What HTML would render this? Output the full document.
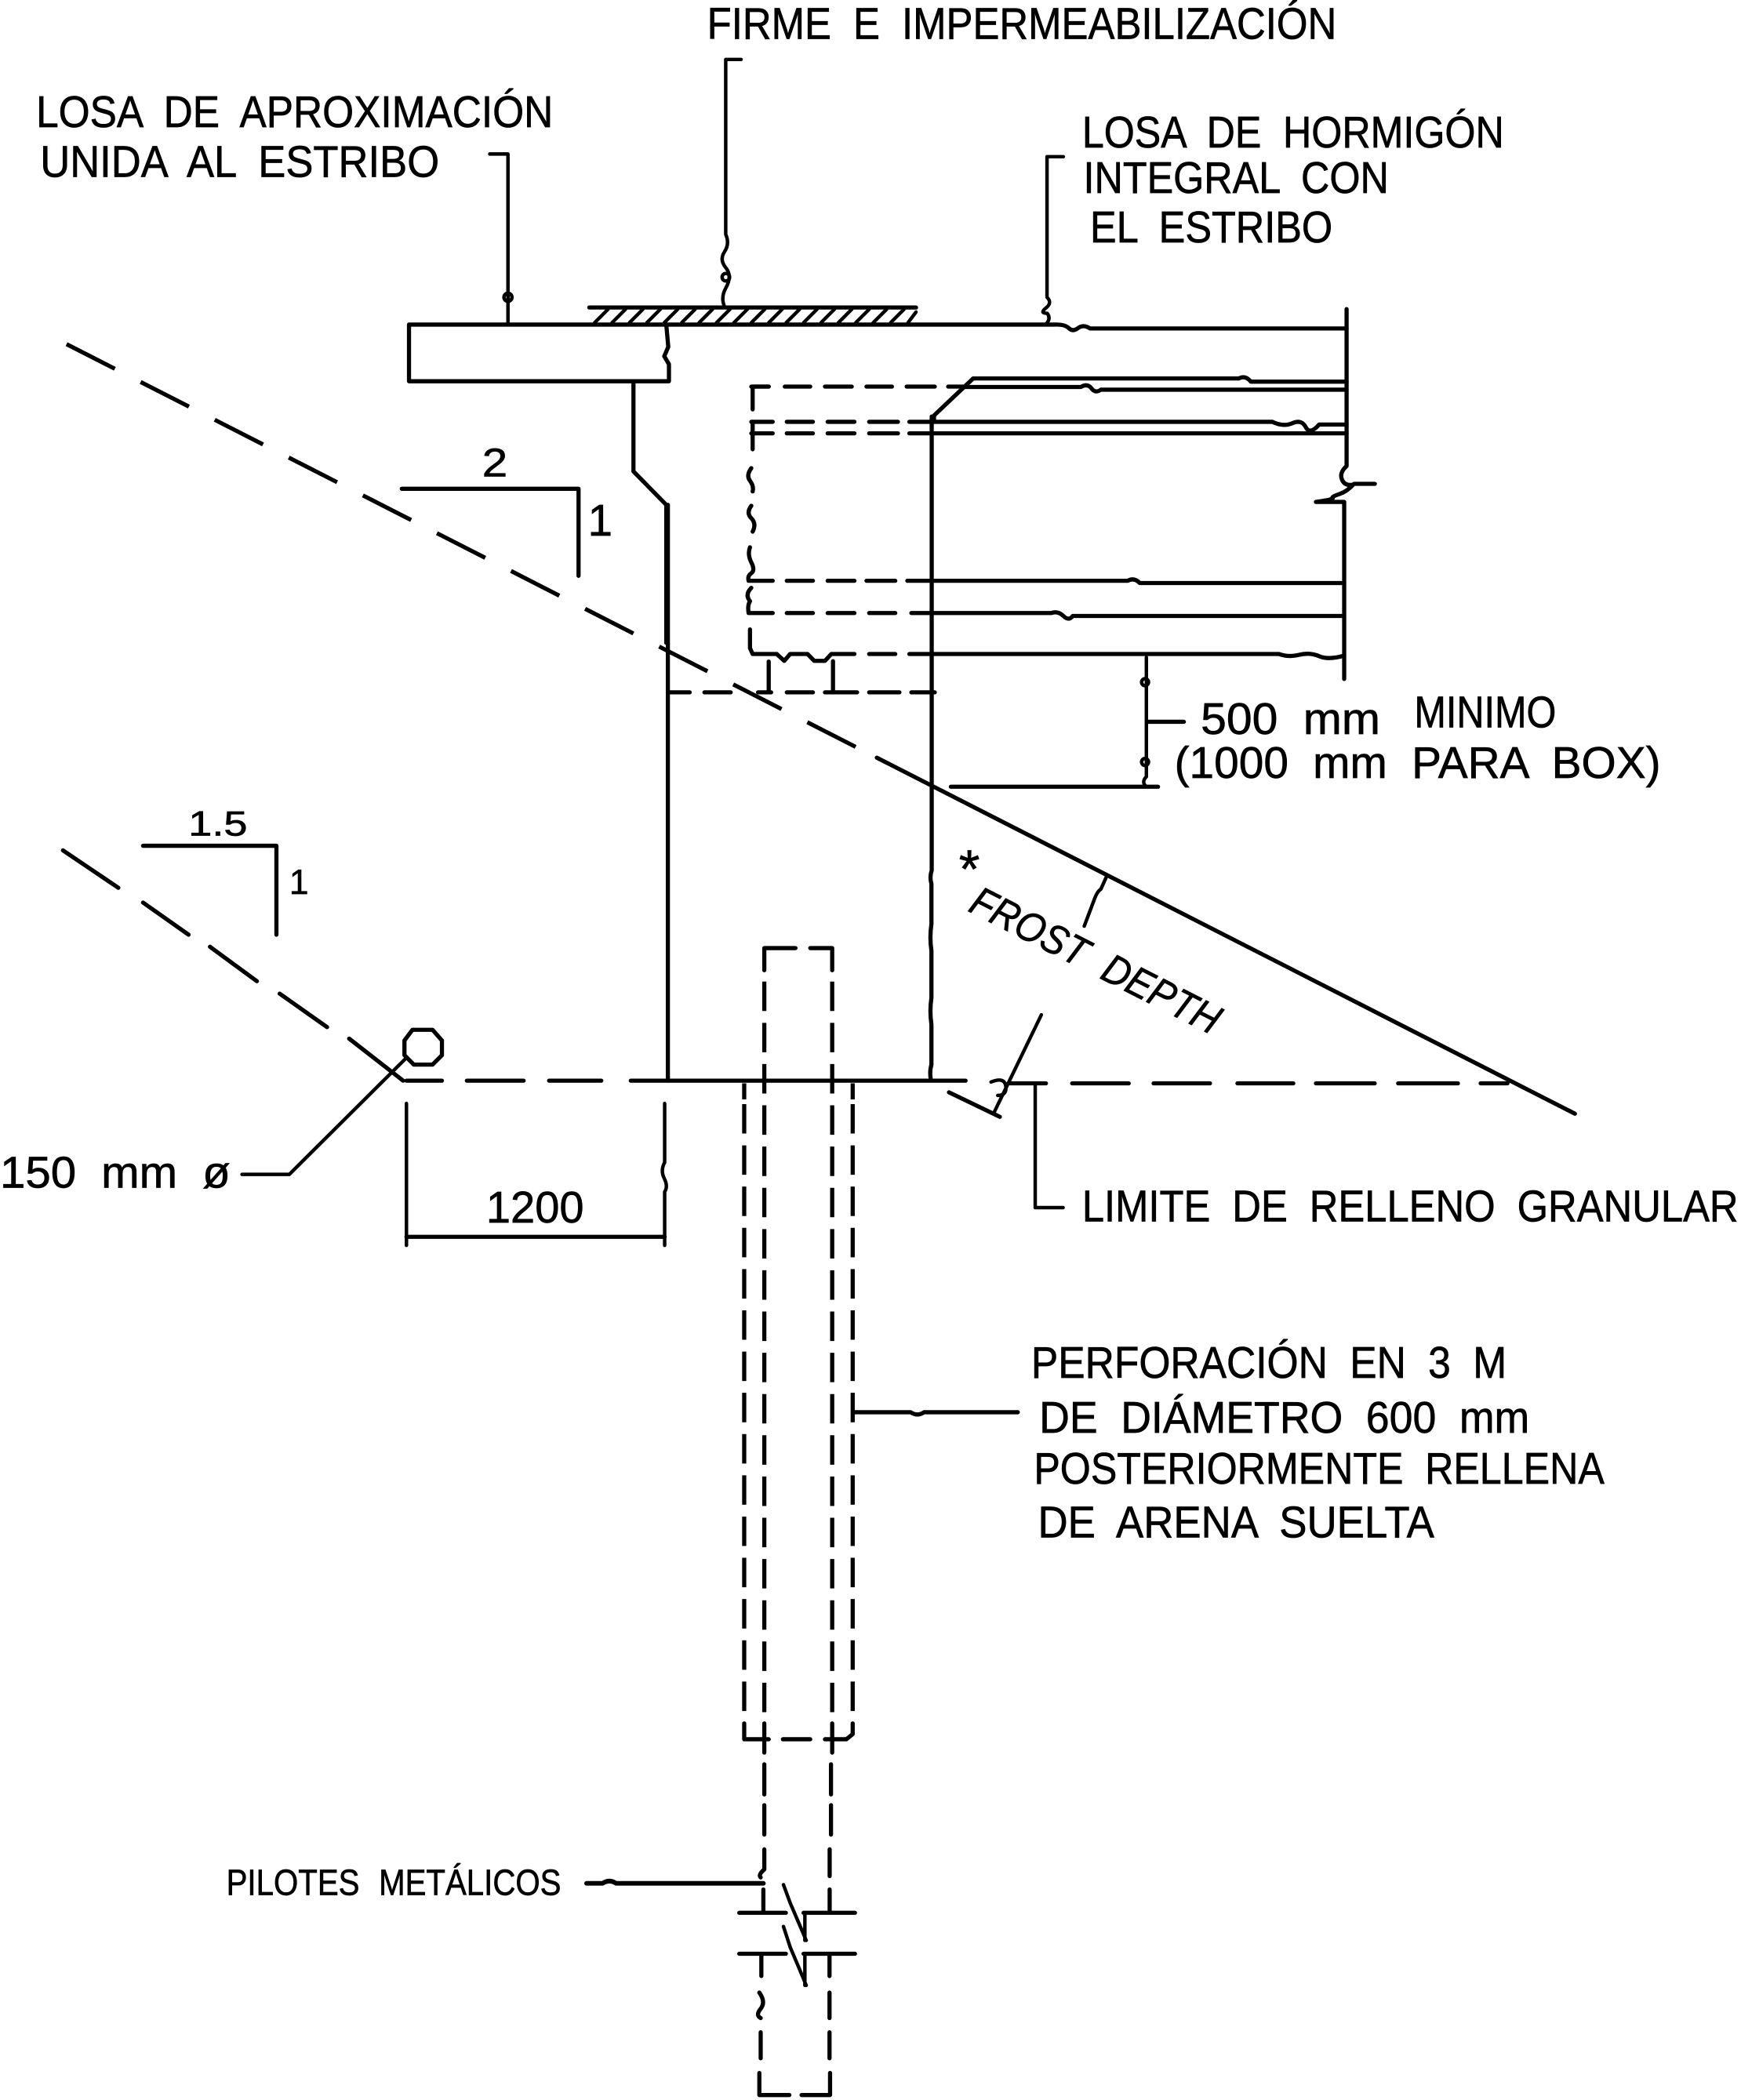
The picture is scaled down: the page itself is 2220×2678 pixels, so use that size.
<!DOCTYPE html>
<html lang="es">
<head>
<meta charset="utf-8">
<title>Detalle de estribo integral</title>
<style>
html,body{margin:0;padding:0;background:#fff;width:2220px;height:2678px;overflow:hidden}
svg{display:block}
text{font-family:"Liberation Sans",sans-serif;fill:#000;stroke:#000;stroke-width:.4;font-size:33px;word-spacing:9px}
.l{fill:none;stroke:#000;stroke-width:3.1;stroke-linecap:round;stroke-linejoin:round}
.t{stroke-width:2.6}
.d{stroke-dasharray:40.5 21.6;stroke-linecap:butt}
.p{stroke-dasharray:22 8.8;stroke-linecap:butt;stroke-width:3.1}
</style>
</head>
<body>
<svg xmlns="http://www.w3.org/2000/svg" width="2220" height="2678" viewBox="0 0 1300 1568.2">
<rect width="1300" height="1568.2" fill="#fff"/>

<!-- Leaders -->
<path class="l t" d="M365.7 115H379.3V242"/>
<circle class="l t" cx="379.3" cy="222" r="3"/>
<path class="l t" d="M553.4 44.4H541.9V175Q545 182 541 188T542 200T542 215Q538 222 541 229"/>
<circle class="l t" cx="542" cy="207" r="2.8"/>
<path class="l t" d="M794 117H781.8V222Q786 226 781 230T782 234Q785 238 781 242"/>

<!-- Waterproofing -->
<path class="l" d="M440 229.6H684"/>
<path class="l t" d="M444 241L454 231M457 241L467 231M470 241L480 231M483 241L493 231M496 241L506 231M509 241L519 231M522 241L532 231M535 241L545 231M548 241L558 231M561 241L571 231M574 241L584 231M587 241L597 231M600 241L610 231M613 241L623 231M626 241L636 231M639 241L649 231M652 241L662 231M665 241L675 231M678 241L684 233"/>

<!-- Approach slab and deck -->
<path class="l" d="M305.4 242.4H787Q795 242 798 245T805 245T814 245.3H1005.5"/>
<path class="l" d="M305.4 242.4V284.7H499.5V272L496 266L499 259L497.5 242.4"/>
<path class="l" d="M473 285V352L497.5 377V480"/>
<path class="l" d="M498.7 377V807"/>

<!-- Right edge with break -->
<path class="l" d="M1005.5 230.8V348Q1000 353 1002 358T1010 362"/>
<path class="l" d="M1026.6 361.3H1011Q1006 367 1000 369T995 372T982.6 374.8H1003.7V507"/>

<!-- Girder top -->
<path class="l" d="M697.4 315V310.3L726.7 282.6H925Q930 280 934 285H1005.5"/>
<path class="l" d="M561 288.7H574M586 288.7H605M616 288.7H636M647 288.7H666M677 288.7H698M708 288.7H720"/>
<path class="l" d="M720 289H807Q812 286 815 290T822 291H1005.5"/>
<path class="l" d="M561 315H577M587.5 315H607M618 315H638M649 315H670.5M679 315H950Q958 319 965 316T975 319T985 317H1005.5"/>
<path class="l" d="M561 323.6H577M587.5 323.6H607M618 323.6H638M649 323.6H670.5M679 323.6H1005.5"/>

<!-- Left dashed edge -->
<path class="l" d="M574 288.7H562V305.7M562 315V335.5"/>
<path class="l" d="M561 349.6Q557 355 560 359T562 367M561 377.7Q557 383 561 387T562 397M560 408.7Q558 414 561 420T561 428T559 433.7H577M561 439Q556 444 560 449Q558 452 559 457.8H577M560 470V484L562 488.4H580"/>

<!-- Lower rows -->
<path class="l" d="M587.5 433.7H607M618 433.7H638M647 433.7H668.5M677.5 433.7H842Q847 431 851 435.4H1003.7"/>
<path class="l" d="M587.5 457.8H607M618 457.8H638M649 457.8H668.5M680.5 457.8H785Q790 456 794 460T801 460H1003.7"/>
<path class="l" d="M580 488.4L585.6 493.5L590 488.4H603L608 493.5H616L620.7 488.4H638M649 488.4H668.5M679 488.4H955Q962 491 970 489T985 490T1003.7 489.6"/>
<path class="l" d="M574 494V517M622 493.7V517"/>
<path class="l" d="M499 517H515M526 517H545.6M566 517H575.8M587.5 517H607M616 517H640M649 517H671.6M680.5 517H698"/>

<!-- Main wall -->
<path class="l" d="M695.7 311V650Q694 655 695.5 660V690Q694 700 695.5 710V745Q694 755 695.5 765V795Q694 800 695 806"/>

<!-- 500 mm dimension -->
<path class="l t" d="M856 490.8V580Q852 584 856 587.5"/>
<circle class="l t" cx="855" cy="509.4" r="2.6"/>
<circle class="l t" cx="855" cy="569" r="2.6"/>
<path class="l" d="M857 539H884M710 587.5H864.7"/>

<!-- Slopes -->
<path class="l d" d="M49.7 257L640 558.3"/>
<path class="l" d="M654.7 565.8L1176 831.7"/>
<path class="l" d="M47 635L88.4 663M106.8 674L140.8 698M156.8 707L191.8 732.7M208.8 742L244.2 767M260.7 775.6L301 807"/>
<path class="l" d="M300 365H432V430"/>
<path class="l" d="M106.8 631.6H206.4V698"/>

<!-- Drain -->
<polygon class="l" points="308,769 323,769 330,777 330,788 323,795 309,795 302,788 302,777"/>
<path class="l t" d="M303.4 790L216 877H180.7"/>

<!-- Ground line -->
<path class="l" d="M303.5 807H330M348.6 807H391M410 807H449M471 807H721"/>
<path class="l" d="M754 809H781M800.6 809H842.8M861.4 809H903.5M924 809H965.7M982.6 809H1026.5M1044 809H1088.6M1105.6 809H1125.6"/>

<!-- 1200 dimension -->
<path class="l t" d="M303.5 824V930M496.3 824V868Q493 874 496 880T496.3 890V930"/>
<path class="l" d="M303.5 923.6H496.3"/>

<!-- Granular limit -->
<path class="l" d="M708.6 815.7L746.6 834"/>
<path class="l t" d="M742.3 830.7L777.6 757.8"/>
<path class="l t" d="M740 808Q750 804 751 811T745 818"/>
<path class="l t" d="M809.6 691.6L817 672Q819 666 822 664L826.5 654"/>
<path class="l t" d="M773 809V901.8H793.8"/>

<!-- Bore hole (outer) -->
<path class="l" d="M555.7 809V821M636.7 809V821" style="stroke-linecap:butt"/>
<path class="l p" d="M555.7 824.5V1280"/>
<path class="l p" d="M636.7 824.5V1280"/>
<path class="l" d="M555.7 1287V1298.8H574M584.6 1298.8H605M616 1298.8H632L636.7 1295V1287"/>

<!-- Pile (inner) -->
<path class="l" d="M570.7 724.5V708H594M605 708H621.4V724.5"/>
<path class="l p" d="M570.7 733V1280"/>
<path class="l p" d="M621.4 733V1280"/>
<path class="l" d="M570.7 1287V1308.8M621.4 1287V1308.8M570.7 1317.5V1340M620.5 1317.5V1340M570.7 1348V1370M620.5 1348V1370M570.7 1381V1396Q566 1400 568 1402M619.5 1381V1401M570 1411V1428M619.5 1411V1428"/>
<path class="l" d="M568.5 1459V1475.6M619.4 1459V1475.6M567 1488Q572 1495 568 1500T568 1507M619.4 1488V1507M568 1517.6V1537M619.4 1517.6V1537M567 1548V1564.5H589.4M598.5 1564.5H619.8V1548"/>

<!-- Leaders lower -->
<path class="l" d="M638 1054.6H680Q685 1058 690 1054.6H760"/>
<path class="l" d="M438 1406.4H450Q455 1403 460 1406.4H570" style="stroke-width:3.5"/>

<!-- Pile break -->
<path class="l" d="M552 1428.4H586.8M600 1428.4H638.4"/>
<path class="l" d="M552 1459H586.8M600 1459H638.4"/>
<path class="l t" d="M585 1407.4L590 1421L596.7 1436.6L602 1449M601 1428.4V1449"/>
<path class="l t" d="M585 1438.6L590 1454L596.7 1469.8L602 1482.6M601 1459V1482.6"/>

<!-- Labels -->
<text x="528" y="29" textLength="470" lengthAdjust="spacingAndGlyphs">FIRME E IMPERMEABILIZACIÓN</text>
<text x="27" y="95" textLength="386" lengthAdjust="spacingAndGlyphs">LOSA DE APROXIMACIÓN</text>
<text x="30" y="132" textLength="298" lengthAdjust="spacingAndGlyphs">UNIDA AL ESTRIBO</text>
<text x="808" y="110" textLength="315" lengthAdjust="spacingAndGlyphs">LOSA DE HORMIGÓN</text>
<text x="809" y="144" textLength="228" lengthAdjust="spacingAndGlyphs">INTEGRAL CON</text>
<text x="814" y="181" textLength="181" lengthAdjust="spacingAndGlyphs">EL ESTRIBO</text>
<text x="360" y="355.6" textLength="19" lengthAdjust="spacingAndGlyphs" style="font-size:30px">2</text>
<text x="439" y="400" style="font-size:33px">1</text>
<text x="896.6" y="548" textLength="134" lengthAdjust="spacingAndGlyphs">500 mm</text>
<text x="1056" y="543" textLength="106" lengthAdjust="spacingAndGlyphs">MINIMO</text>
<text x="877" y="581" textLength="363" lengthAdjust="spacingAndGlyphs">(1000 mm PARA BOX)</text>
<text x="716" y="663" style="font-size:40px">*</text>
<text transform="translate(722 680) rotate(27)" textLength="205" lengthAdjust="spacingAndGlyphs" style="font-size:31px;font-style:italic">FROST DEPTH</text>
<text x="140.7" y="624" style="font-size:26px" textLength="44" lengthAdjust="spacingAndGlyphs">1.5</text>
<text x="216" y="667.5" style="font-size:26px">1</text>
<text x="0" y="887" textLength="172" lengthAdjust="spacingAndGlyphs">150 mm ø</text>
<text x="363" y="913" textLength="73" lengthAdjust="spacingAndGlyphs">1200</text>
<text x="808" y="912" textLength="490" lengthAdjust="spacingAndGlyphs">LIMITE DE RELLENO GRANULAR</text>
<text x="770" y="1029" textLength="355" lengthAdjust="spacingAndGlyphs">PERFORACIÓN EN 3 M</text>
<text x="776" y="1070" textLength="366" lengthAdjust="spacingAndGlyphs">DE DIÁMETRO 600 mm</text>
<text x="772" y="1108" textLength="426" lengthAdjust="spacingAndGlyphs">POSTERIORMENTE RELLENA</text>
<text x="775" y="1148" textLength="296" lengthAdjust="spacingAndGlyphs">DE ARENA SUELTA</text>
<text x="169" y="1415" textLength="250" lengthAdjust="spacingAndGlyphs" style="font-size:27px">PILOTES METÁLICOS</text>
</svg>
</body>
</html>
